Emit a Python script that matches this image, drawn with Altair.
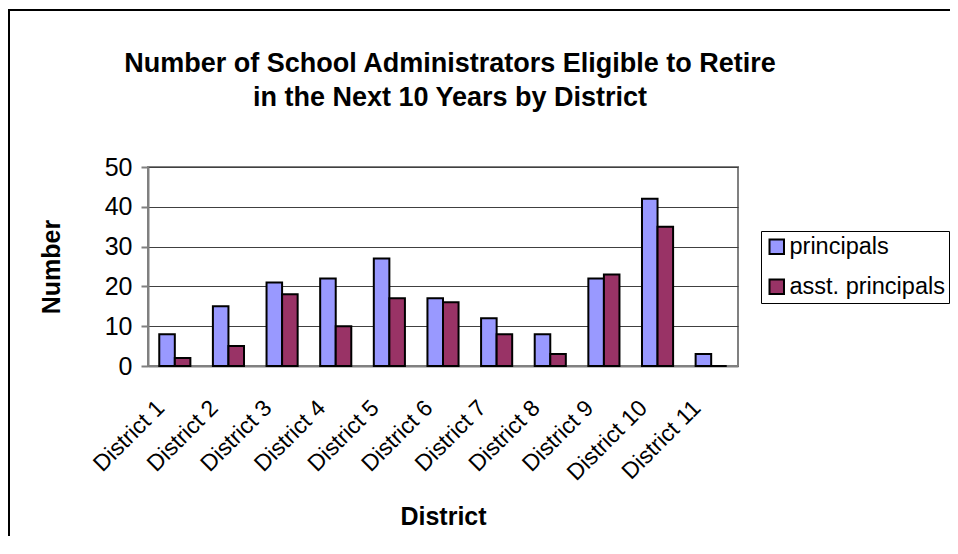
import altair as alt
import pandas as pd

districts = ["District 1", "District 2", "District 3", "District 4", "District 5",
             "District 6", "District 7", "District 8", "District 9", "District 10", "District 11"]
principals = [8, 15, 21, 22, 27, 17, 12, 8, 22, 42, 3]
asst_principals = [2, 5, 18, 10, 17, 16, 8, 3, 23, 35, 0]
series = ["principals", "asst. principals"]
colors = ["#9999FF", "#993366"]
y_ticks = [0, 10, 20, 30, 40, 50]

rows = []
for d, p, a in zip(districts, principals, asst_principals):
    rows.append({"District": d, "Series": series[0], "Value": p})
    rows.append({"District": d, "Series": series[1], "Value": a})
df = pd.DataFrame(rows)

FONT = "Liberation Sans"

bars = alt.Chart(df).mark_bar(stroke="black", strokeWidth=2).encode(
    x=alt.X("District:N", sort=districts,
            scale=alt.Scale(paddingInner=0.42, paddingOuter=0.21),
            axis=alt.Axis(title="District", labelAngle=-45, labelFontSize=23,
                          labelAlign="right", labelBaseline="middle",
                          labelFont=FONT, titleFont=FONT, titleFontSize=25,
                          titleFontWeight="bold", ticks=False, labelPadding=38,
                          labelOffset=-14, labelLimit=300,
                          titlePadding=20, domainColor="#808080", domainWidth=2,
                          labelColor="black", titleColor="black", grid=False)),
    xOffset=alt.XOffset("Series:N", sort=series),
    y=alt.Y("Value:Q", scale=alt.Scale(domain=[0, 50], nice=False),
            axis=alt.Axis(title="Number", values=y_ticks, labelFontSize=25,
                          labelFont=FONT, titleFont=FONT, titleFontSize=25,
                          titleFontWeight="bold", tickSize=7, tickColor="#808080",
                          tickWidth=2, labelPadding=9, titlePadding=40,
                          domainColor="#808080", domainWidth=2,
                          gridColor="#404040", gridWidth=1,
                          labelColor="black", titleColor="black")),
    color=alt.Color("Series:N", sort=series,
                    scale=alt.Scale(domain=series, range=colors),
                    legend=alt.Legend(title=None, orient="none", legendX=613, legendY=64,
                                      strokeColor="black", fillColor="white",
                                      symbolType="square", symbolSize=210,
                                      symbolStrokeColor="black", symbolStrokeWidth=2,
                                      labelFontSize=23.5, labelFont=FONT, labelColor="black",
                                      labelLimit=400,
                                      rowPadding=15, padding=4, symbolOffset=0,
                                      labelOffset=1)),
)

frame_df = pd.DataFrame({"k": [0]})
frame = alt.Chart(frame_df).mark_rect(fill="transparent", stroke="black", strokeWidth=2).encode(
    x=alt.value(-139), y=alt.value(-157), x2=alt.value(900), y2=alt.value(500)
)

chart = alt.layer(frame, bars).properties(
    width=590, height=199,
    padding={"left": 140, "top": 159, "right": 212, "bottom": 170},
    autosize=alt.AutoSizeParams(type="none"),
    title=alt.TitleParams(
        text=["Number of School Administrators Eligible to Retire",
              "in the Next 10 Years by District"],
        fontSize=27, fontWeight="bold", font=FONT, color="black",
        anchor="middle", frame="group", offset=-103, lineHeight=34, dx=7),
).configure_view(stroke="#808080", strokeWidth=2)

chart.save("out.html", embed_options={"renderer": "svg", "actions": False})
